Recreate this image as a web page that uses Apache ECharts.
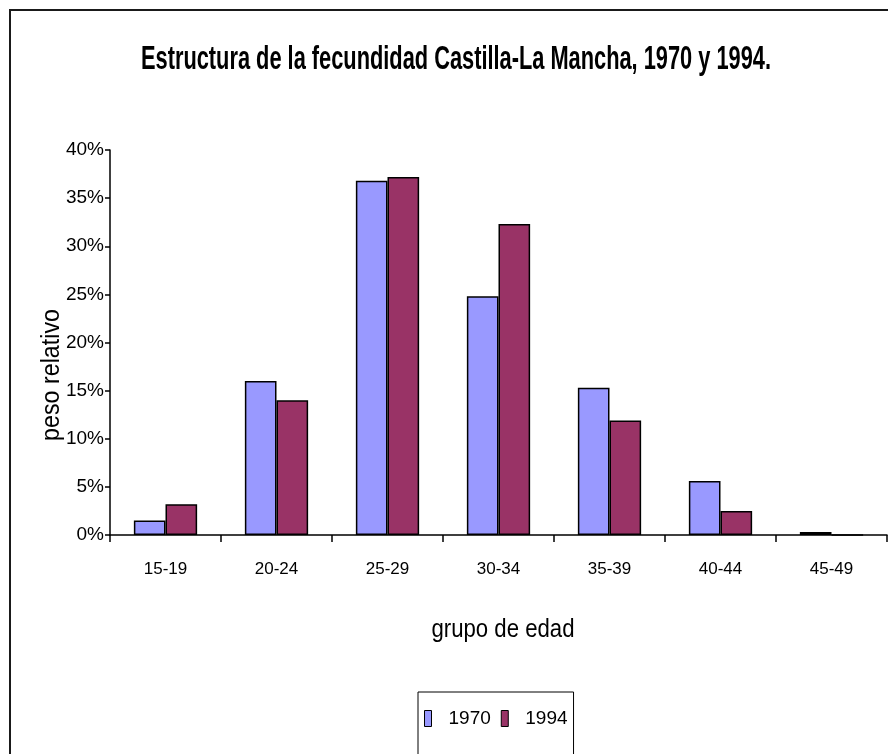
<!DOCTYPE html>
<html>
<head>
<meta charset="utf-8">
<script src="https://cdn.jsdelivr.net/npm/echarts@6/dist/echarts.min.js"></script>
<style>
  html, body { margin: 0; padding: 0; background: #ffffff; }
  #chart { width: 888px; height: 754px; }
</style>
</head>
<body>
<div id="chart"></div>
<script>
// Age groups (x axis)
const ageGroups = ['15-19', '20-24', '25-29', '30-34', '35-39', '40-44', '45-49'];
// Relative weight of each age group in total fertility (%)
const share1970 = [1.5, 16.0, 36.8, 24.8, 15.3, 5.6, 0.3];
const share1994 = [3.2, 14.0, 37.2, 32.3, 11.9, 2.5, 0.0];
const seriesNames = ['1970', '1994'];
// Y axis range and step (%)
const yMin = 0, yMax = 40, yStep = 5;

const titleText = 'Estructura de la fecundidad Castilla-La Mancha, 1970 y 1994.';
const yName = 'peso relativo';
const xName = 'grupo de edad';

const FONT = '"Liberation Sans", Arial, sans-serif';

// horizontal squeeze so a text spans a given width
function squeeze(text, font, targetWidth) {
  const ctx = document.createElement('canvas').getContext('2d');
  ctx.font = font;
  return targetWidth / ctx.measureText(text).width;
}

const titleFont = 'bold 34px ' + FONT;
const nameFont = '26px ' + FONT;

const chart = echarts.init(document.getElementById('chart'), null, { renderer: 'canvas' });

chart.setOption({
  backgroundColor: '#ffffff',
  animation: false,
  grid: { left: 110, right: 1, top: 150, bottom: 219, containLabel: false },
  legend: {
    data: seriesNames,
    left: 418,
    top: 692,
    orient: 'horizontal',
    itemWidth: 7,
    itemHeight: 16,
    itemGap: 10,
    padding: [17, 6, 40, 6],
    borderColor: '#000000',
    borderWidth: 1,
    icon: 'rect',
    itemStyle: { borderColor: '#000000', borderWidth: 1 },
    textStyle: { fontFamily: FONT, fontSize: 19, color: '#000000', padding: [0, 0, 0, 12] }
  },
  xAxis: {
    type: 'category',
    data: ageGroups,
    axisLine: { show: true, lineStyle: { color: '#000000', width: 1.5 } },
    axisTick: { show: true, alignWithLabel: false, length: 7, lineStyle: { color: '#000000', width: 1.5 } },
    axisLabel: { fontFamily: FONT, fontSize: 17, color: '#000000', margin: 26 },
    splitLine: { show: false }
  },
  yAxis: {
    type: 'value',
    min: yMin,
    max: yMax,
    interval: yStep,
    axisLine: { show: true, lineStyle: { color: '#000000', width: 1.5 } },
    axisTick: { show: true, length: 5, lineStyle: { color: '#000000', width: 1.5 } },
    axisLabel: { fontFamily: FONT, fontSize: 19, color: '#000000', margin: 6, formatter: '{value}%' },
    splitLine: { show: false }
  },
  series: [
    {
      name: seriesNames[0],
      type: 'bar',
      data: share1970,
      barGap: '0%',
      barCategoryGap: '43%',
      itemStyle: { color: '#9999ff', borderColor: '#000000', borderWidth: 1.5 }
    },
    {
      name: seriesNames[1],
      type: 'bar',
      data: share1994,
      itemStyle: { color: '#993366', borderColor: '#000000', borderWidth: 1.5 }
    }
  ],
  graphic: [
    {
      type: 'rect',
      shape: { x: 10, y: 10, width: 900, height: 780 },
      style: { fill: null, stroke: '#1a1a1a', lineWidth: 2 },
      silent: true
    },
    {
      type: 'text',
      x: 456, y: 60,
      scaleX: squeeze(titleText, titleFont, 630),
      style: { text: titleText, font: titleFont, fill: '#000000', align: 'center', verticalAlign: 'middle' }
    },
    {
      type: 'text',
      x: 52, y: 375,
      rotation: Math.PI / 2,
      scaleX: squeeze(yName, nameFont, 132),
      style: { text: yName, font: nameFont, fill: '#000000', align: 'center', verticalAlign: 'middle' }
    },
    {
      type: 'text',
      x: 503, y: 630,
      scaleX: squeeze(xName, nameFont, 143),
      style: { text: xName, font: nameFont, fill: '#000000', align: 'center', verticalAlign: 'middle' }
    }
  ]
});
</script>
</body>
</html>
